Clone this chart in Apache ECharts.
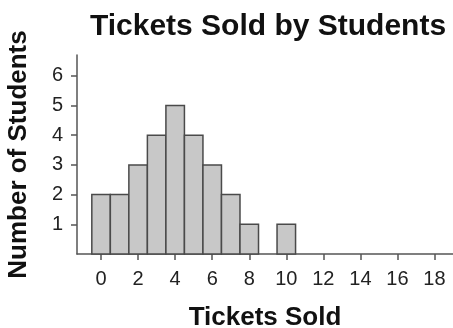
<!DOCTYPE html>
<html>
<head>
<meta charset="utf-8">
<script src="https://cdn.jsdelivr.net/npm/echarts@6/dist/echarts.min.js"></script>
<style>
  html, body { margin: 0; padding: 0; background: #fff; }
  #chart { width: 453px; height: 328px; }
</style>
</head>
<body>
<div id="chart"></div>
<script>
var ticketsSold = [0, 1, 2, 3, 4, 5, 6, 7, 8, 9, 10]   // 票数
var studentCount = [2, 2, 3, 4, 5, 4, 3, 2, 1, 0, 1]  // 人数
var xTicks = [0, 2, 4, 6, 8, 10, 12, 14, 16, 18]
var yTicks = [1, 2, 3, 4, 5, 6]

var font = 'Liberation Sans, Arial, Helvetica, sans-serif'
var barData = []
for (var i = 0; i < ticketsSold.length; i++) {
  barData.push([ticketsSold[i], studentCount[i]])
}

var chart = echarts.init(document.getElementById('chart'))
var option = {
  animation: false,
  title: {
    text: 'Tickets Sold by Students',
    left: 263,
    top: 7,
    textAlign: 'center',
    textStyle: { fontFamily: font, fontSize: 30, fontWeight: 'bold', color: '#111' }
  },
  grid: { left: 77, right: 0, top: 55, bottom: 74, containLabel: false, outerBoundsMode: 'none' },
  xAxis: {
    type: 'value',
    min: -1.3,
    max: 19,
    name: 'Tickets Sold',
    nameLocation: 'middle',
    nameGap: 51,
    nameTextStyle: { fontFamily: font, fontSize: 26, fontWeight: 'bold', color: '#111' },
    splitLine: { show: false },
    axisLine: { onZero: false, lineStyle: { color: '#555', width: 1.5 } },
    axisTick: { show: true, length: 6, customValues: xTicks, lineStyle: { color: '#555', width: 1.5 } },
    axisLabel: { customValues: xTicks, fontFamily: font, fontSize: 20, color: '#222', margin: 15 }
  },
  yAxis: {
    type: 'value',
    min: 0,
    max: 6.7,
    name: 'Number of Students',
    nameLocation: 'middle',
    nameRotate: 90,
    nameGap: 45,
    nameTextStyle: { fontFamily: font, fontSize: 26, fontWeight: 'bold', color: '#111' },
    splitLine: { show: false },
    axisLine: { show: true, onZero: false, lineStyle: { color: '#555', width: 1.5 } },
    axisTick: { show: true, length: 6, customValues: yTicks, lineStyle: { color: '#555', width: 1.5 } },
    axisLabel: { customValues: yTicks, fontFamily: font, fontSize: 20, color: '#222', margin: 14 }
  },
  series: [{
    type: 'custom',
    data: barData,
    renderItem: function (params, api) {
      var x = api.value(0), y = api.value(1)
      if (!y) return
      var p1 = api.coord([x - 0.5, y])
      var p2 = api.coord([x + 0.5, 0])
      return {
        type: 'rect',
        shape: { x: p1[0], y: p1[1], width: p2[0] - p1[0], height: p2[1] - p1[1] },
        style: { fill: '#c8c8c8', stroke: '#4a4a4a', lineWidth: 1.5 }
      }
    }
  }]
}
chart.setOption(option)
</script>
</body>
</html>
